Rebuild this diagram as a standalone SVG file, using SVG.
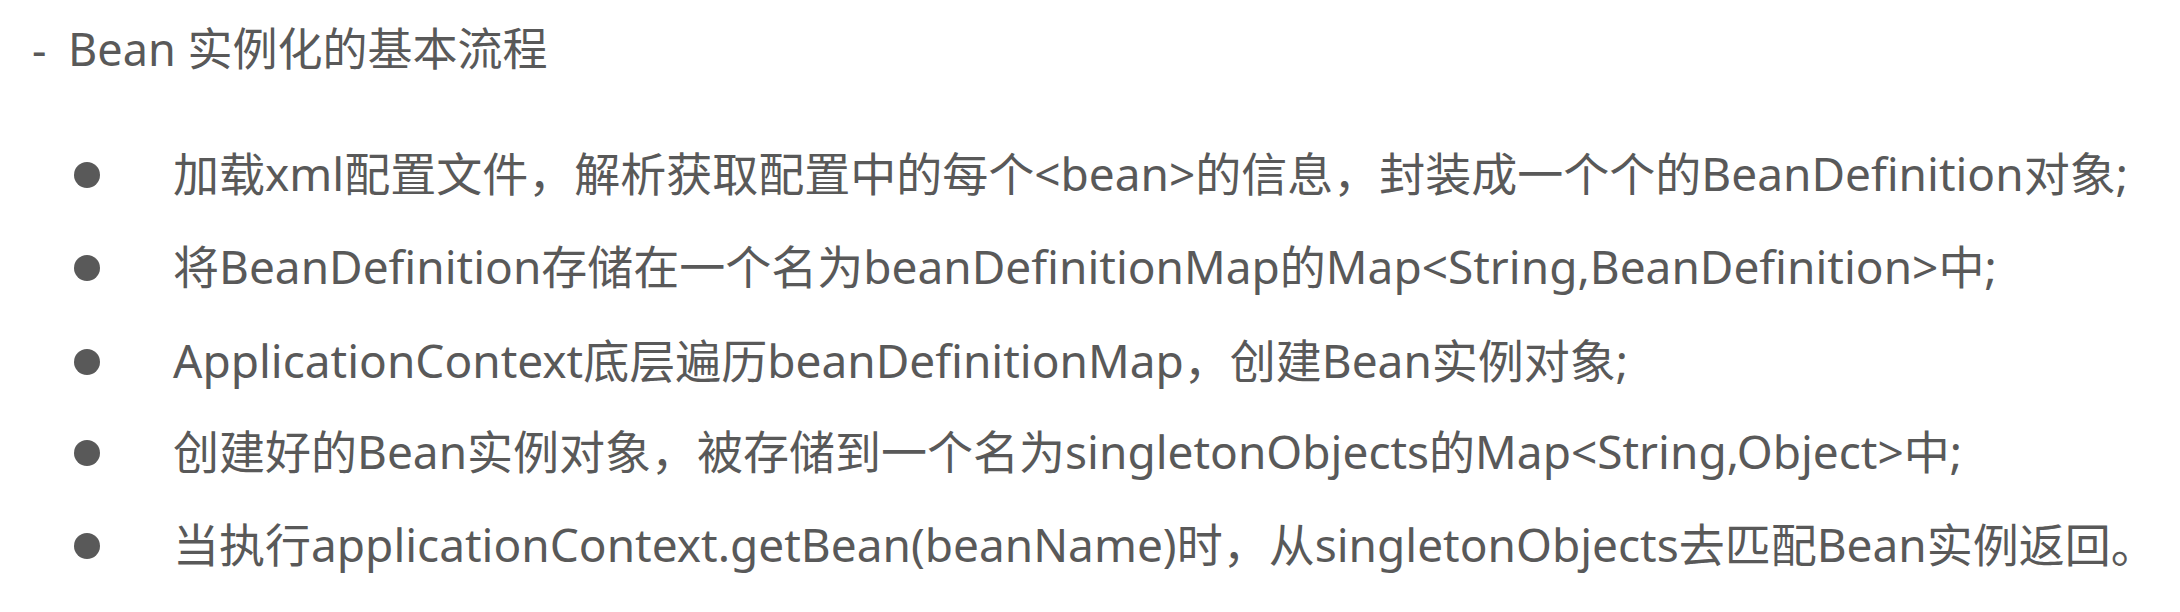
<svg xmlns="http://www.w3.org/2000/svg" width="2180" height="612" viewBox="0 0 2180 612">
<style>
text{font-family:"Noto Sans","Noto Sans CJK SC",sans-serif;fill:#595959;}
.t{font-size:45px;}
.b{font-size:46px;}
.dot{fill:#595959;}
</style>
<rect width="2180" height="612" fill="#ffffff"/>
<g id="title"><text class="t" x="32" y="66">-</text><text class="t" x="68" y="66">Bean 实例化的基本流程</text></g>
<g id="item1"><circle class="dot" cx="87" cy="175" r="13"/><text class="b" x="173" y="191">加载xml配置文件，解析获取配置中的每个&lt;bean&gt;的信息，封装成一个个的BeanDefinition对象;</text></g>
<g id="item2"><circle class="dot" cx="87" cy="268" r="13"/><text class="b" x="173" y="284">将BeanDefinition存储在一个名为beanDefinitionMap的Map&lt;String,BeanDefinition&gt;中;</text></g>
<g id="item3"><circle class="dot" cx="87" cy="362" r="13"/><text class="b" x="173" y="378">ApplicationContext底层遍历beanDefinitionMap，创建Bean实例对象;</text></g>
<g id="item4"><circle class="dot" cx="87" cy="453" r="13"/><text class="b" x="173" y="469">创建好的Bean实例对象，被存储到一个名为singletonObjects的Map&lt;String,Object&gt;中;</text></g>
<g id="item5"><circle class="dot" cx="87" cy="546" r="13"/><text class="b" x="173" y="562">当执行applicationContext.getBean(beanName)时，从singletonObjects去匹配Bean实例返回。</text></g>
</svg>
